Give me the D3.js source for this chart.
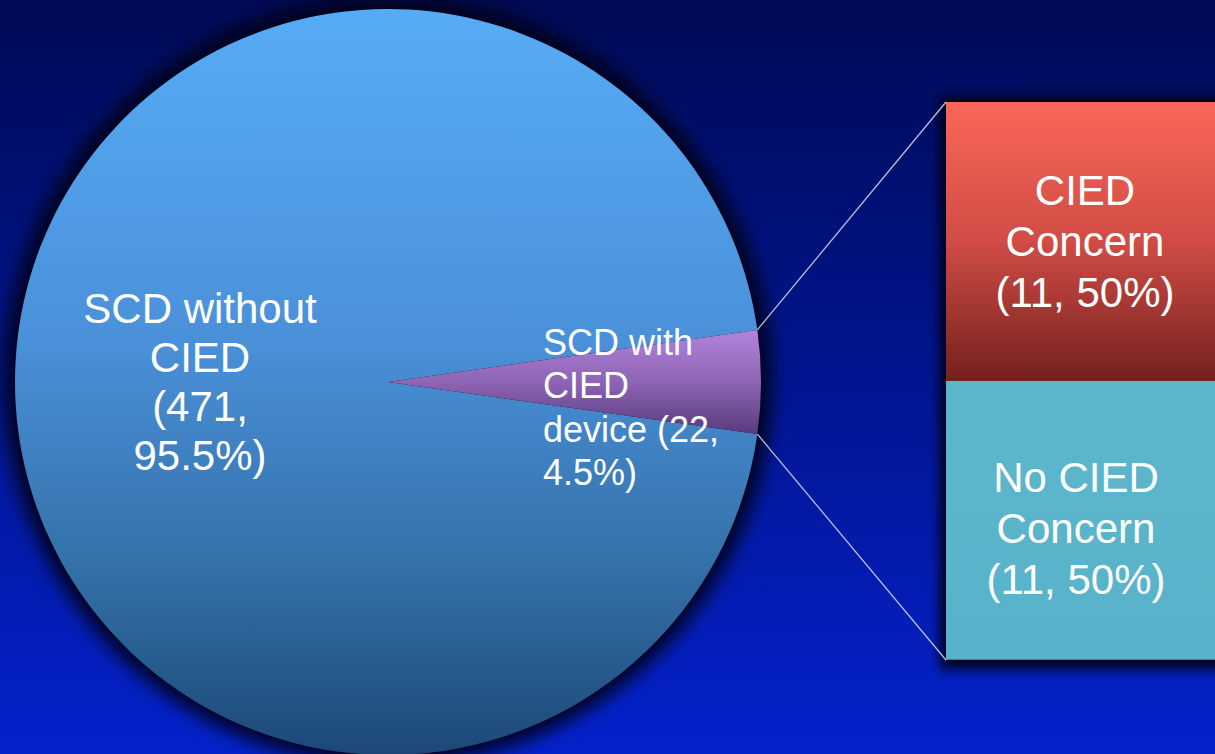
<!DOCTYPE html>
<html>
<head>
<meta charset="utf-8">
<script src="https://cdn.jsdelivr.net/npm/d3@7"></script>
<style>
  html, body { margin: 0; padding: 0; overflow: hidden; background: #000a55; }
  svg { display: block; }
  text { font-family: "Liberation Sans", Arial, sans-serif; fill: #ffffff; }
</style>
</head>
<body>
<svg id="chart" width="1215" height="754"></svg>
<script>
// Sudden cardiac death cases, split by presence of a cardiac implantable device
const pieCategories = ["SCD without CIED", "SCD with CIED device"];
const pieValues = [471, 22];
// label templates: "|" breaks a line, {n} = count, {p} = share
const pieLabelTemplates = ["SCD without|CIED|({n},|{p})", "SCD with|CIED|device ({n},|{p})"];

// Breakdown of the device slice
const barCategories = ["CIED Concern", "No CIED Concern"];
const barValues = [11, 11];
const barLabelTemplates = ["CIED|Concern|({n}, {p})", "No CIED|Concern|({n}, {p})"];

const W = 1215, H = 754;
const svg = d3.select("#chart");
const defs = svg.append("defs");

function linGrad(id, stops) {
  const g = defs.append("linearGradient").attr("id", id)
    .attr("x1", 0).attr("y1", 0).attr("x2", 0).attr("y2", 1);
  stops.forEach(([o, c]) => g.append("stop").attr("offset", o).attr("stop-color", c));
}
linGrad("bg", [[0, "#000a55"], [0.5, "#011590"], [1, "#0422cc"]]);
linGrad("pieBlue", [[0, "#57abf6"], [0.45, "#4a90d8"], [0.75, "#3370a8"], [1, "#1c4877"]]);
linGrad("piePurple", [[0, "#b184dc"], [0.5, "#8e64b4"], [1, "#573b7c"]]);
linGrad("boxRed", [[0, "#fb6659"], [0.5, "#d04c45"], [1, "#73201e"]]);
linGrad("boxCyan", [[0, "#5cb7cd"], [1, "#58b2c9"]]);

const glow = defs.append("filter").attr("id", "glow")
  .attr("x", "-15%").attr("y", "-15%").attr("width", "130%").attr("height", "130%");
glow.append("feGaussianBlur").attr("stdDeviation", 10);

const boxShadow = defs.append("filter").attr("id", "boxShadow")
  .attr("x", "-15%").attr("y", "-15%").attr("width", "130%").attr("height", "130%");
boxShadow.append("feGaussianBlur").attr("stdDeviation", 6);

// background
svg.append("rect").attr("width", W).attr("height", H).attr("fill", "url(#bg)");

// ---- pie ----
const cx = 388, cy = 382, r = 373;
const total = d3.sum(pieValues);
const pctPie = d3.format(".1%");
const pieData = pieCategories.map((c, i) => ({ name: c, value: pieValues[i], tpl: pieLabelTemplates[i] }));

// keep the small slice centred on the right-hand side
const halfSmall = Math.PI * pieValues[1] / total;
const pie = d3.pie().value(d => d.value).sort(null)
  .startAngle(Math.PI / 2 + halfSmall)
  .endAngle(Math.PI / 2 + halfSmall + 2 * Math.PI);
const arcs = pie(pieData);
const arc = d3.arc().innerRadius(0).outerRadius(r);

const pieG = svg.append("g").attr("transform", `translate(${cx},${cy})`);
// dark halo around the disc
pieG.append("circle").attr("r", r + 9).attr("fill", "#00000f")
  .attr("filter", "url(#glow)");

const fills = ["url(#pieBlue)", "url(#piePurple)"];
pieG.selectAll("path.slice").data(arcs).join("path")
  .attr("class", "slice")
  .attr("d", arc)
  .attr("fill", (d, i) => fills[i]);

// ---- stacked breakdown box ----
const boxX = 946, boxW = 278;
const barTotal = d3.sum(barValues);
const y = d3.scaleLinear().domain([0, barTotal]).range([660, 102]);
let acc = barTotal;
const barData = barCategories.map((c, i) => {
  const top = acc; acc -= barValues[i];
  return { name: c, value: barValues[i], y0: top, y1: acc, tpl: barLabelTemplates[i] };
});

svg.append("rect")
  .attr("x", boxX - 6).attr("y", y(barTotal) - 5)
  .attr("width", boxW + 12).attr("height", y(0) - y(barTotal) + 14)
  .attr("fill", "#000018").attr("filter", "url(#boxShadow)");

const boxFills = ["url(#boxRed)", "url(#boxCyan)"];
svg.selectAll("rect.seg").data(barData).join("rect")
  .attr("class", "seg")
  .attr("x", boxX).attr("width", boxW)
  .attr("y", d => y(d.y0))
  .attr("height", d => y(d.y1) - y(d.y0))
  .attr("fill", (d, i) => boxFills[i]);

// thin darker rim along the bottom of the box
svg.append("line")
  .attr("x1", boxX).attr("x2", boxX + boxW)
  .attr("y1", y(0) - 0.5).attr("y2", y(0) - 0.5)
  .attr("stroke", "#3a7f9c").attr("stroke-width", 1);

// connector lines from the small slice to the box corners
const small = arcs[1];
const edge = a => [cx + r * Math.sin(a), cy - r * Math.cos(a)];
const [sx0, sy0] = edge(small.startAngle);
const [sx1, sy1] = edge(small.endAngle);
const conn = [
  [[sx0, sy0], [boxX, y(barTotal)]],
  [[sx1, sy1], [boxX, y(0)]]
];
svg.selectAll("line.conn").data(conn).join("line")
  .attr("class", "conn")
  .attr("x1", d => d[0][0]).attr("y1", d => d[0][1])
  .attr("x2", d => d[1][0]).attr("y2", d => d[1][1])
  .attr("stroke", "#b8c0dc").attr("stroke-width", 1.3);

// ---- labels ----
function lines(tpl, n, p) {
  return tpl.replace("{n}", n).replace("{p}", p).split("|");
}
function drawLines(x, y0, step, arr, size, anchor) {
  const t = svg.append("text")
    .attr("x", x).attr("y", y0)
    .attr("font-size", size)
    .attr("text-anchor", anchor);
  arr.forEach((s, i) => t.append("tspan").attr("x", x).attr("y", y0 + i * step).text(s));
}

drawLines(cx - 188, cy - 59, 49,
  lines(pieData[0].tpl, pieData[0].value, pctPie(pieData[0].value / total)), 42, "middle");
drawLines(cx + 155, cy - 27, 43.4,
  lines(pieData[1].tpl, pieData[1].value, pctPie(pieData[1].value / total)), 36, "start");

const pctBar = d3.format(".0%");
const barLabelX = [boxX + 139, boxX + 130];
barData.forEach((d, i) => {
  const mid = (y(d.y0) + y(d.y1)) / 2;
  const offs = [-37, -29];
  drawLines(barLabelX[i], mid + offs[i], 51,
    lines(d.tpl, d.value, pctBar(d.value / barTotal)), 42, "middle");
});
</script>
</body>
</html>
